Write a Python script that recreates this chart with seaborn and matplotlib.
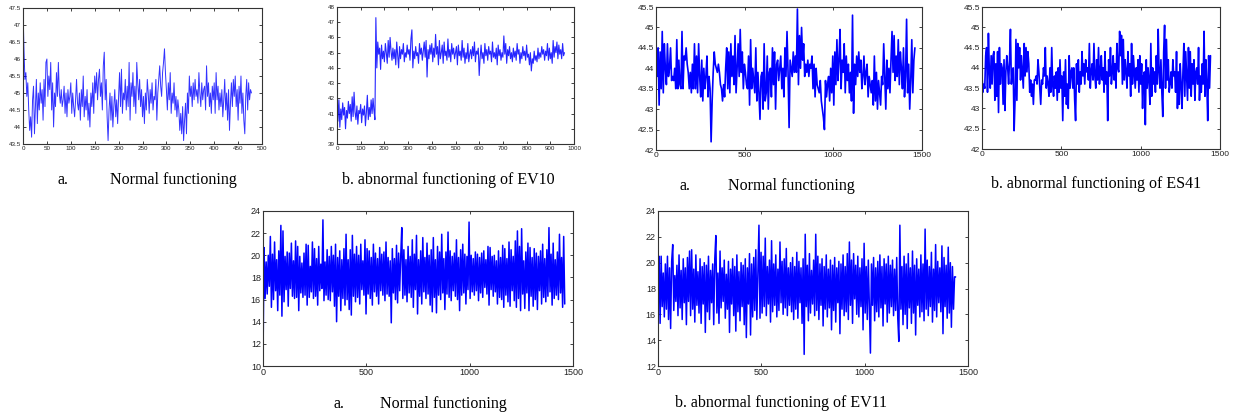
import numpy as np
import pandas as pd
import matplotlib
matplotlib.use("Agg")
import matplotlib.pyplot as plt
import seaborn as sns

# ---------------- data ----------------
ev10_normal = [
    47.5, 46.3, 45.4, 45.6, 44.9, 45.3, 44.5, 43.9, 44.3, 43.7,
    44.8, 45.2, 43.8, 44.6, 45.4, 44.1, 45.0, 44.5, 45.3, 44.7,
    45.1, 44.2, 45.4, 44.6, 45.9, 46.0, 44.9, 45.5, 45.1, 45.9,
    44.5, 45.3, 44.0, 45.0, 44.6, 45.6, 44.9, 45.9, 45.0, 44.7,
    45.1, 44.6, 44.8, 45.2, 44.4, 45.0, 44.3, 45.1, 44.7, 44.9,
    45.3, 44.4, 45.0, 44.6, 44.3, 44.8, 45.4, 44.7, 44.5, 45.0,
    44.2, 45.1, 44.6, 45.5, 44.3, 44.9, 44.5, 45.1, 44.2, 44.7,
    44.0, 45.0, 44.6, 45.3, 44.4, 45.5, 45.0, 45.6, 44.8, 45.4,
    45.7, 44.9, 45.3, 44.5, 45.8, 46.2, 44.8, 45.4, 44.3, 43.6,
    44.5, 45.0, 44.2, 44.9, 44.0, 44.6, 45.1, 44.3, 44.8, 44.1,
    44.9, 45.6, 44.6, 45.7, 44.4, 45.0, 44.8, 45.4, 44.5, 45.2,
    44.6, 45.9, 44.2, 45.3, 44.9, 45.6, 44.6, 45.2, 44.4, 45.9,
    45.3, 44.8, 45.4, 44.6, 45.1, 44.3, 44.9, 44.1, 45.0, 44.5,
    45.4, 45.0, 44.4, 45.1, 44.7, 45.3, 44.5, 44.9, 44.8, 45.4,
    44.2, 45.0, 45.4, 45.8, 45.2, 44.9, 45.6, 45.9, 46.3, 45.6,
    45.1, 44.5, 45.3, 44.8, 45.6, 44.4, 45.0, 44.7, 45.3, 44.5,
    44.9, 44.3, 44.8, 44.5, 43.9, 44.4, 43.8, 44.6, 43.6, 44.2,
    44.7, 43.8, 45.0, 44.4, 45.5, 44.9, 45.2, 44.6, 45.3, 44.8,
    45.4, 44.9, 45.1, 44.7, 45.6, 45.0, 44.6, 45.3, 44.8, 45.1,
    45.2, 44.5, 45.8, 44.9, 45.3, 44.6, 45.0, 44.4, 45.2, 44.8,
    45.3, 44.4, 45.6, 44.8, 45.2, 44.5, 45.0, 44.6, 45.1, 44.3,
    44.8, 45.4, 44.5, 45.0, 44.2, 45.1, 43.9, 44.7, 45.3, 44.6,
    45.4, 44.9, 45.5, 44.6, 45.1, 44.2, 45.2, 44.7, 45.5, 44.4,
    45.0, 44.2, 43.8, 44.9, 45.4, 44.5, 45.3, 44.8, 45.1, 45.0,
]
ev10_normal_end = 478

ev10_abnormal = [
    42.8, 40.5, 41.9, 40.1, 41.3, 40.6, 41.7, 40.9, 41.4, 40.0,
    41.2, 40.7, 41.8, 41.0, 41.6, 40.5, 42.1, 40.8, 42.4, 41.1,
    40.6, 41.5, 40.3, 41.2, 41.0, 41.6, 40.4, 41.3, 40.9, 41.5,
    40.2, 41.1, 42.2, 40.6, 41.4, 40.8, 41.9, 41.0, 42.0, 41.2, 40.6,
    47.3, 44.0, 45.7, 44.9, 45.3, 43.9, 45.5, 44.6, 45.1, 44.4,
    45.6, 45.0, 44.3, 45.8, 44.7, 46.0, 45.1, 44.5, 45.3, 44.6,
    45.2, 44.2, 45.7, 44.8, 44.0, 45.4, 44.6, 45.2, 44.9, 45.6,
    44.4, 45.0, 44.7, 45.5, 44.9, 45.2, 44.5, 45.9, 46.5, 44.0,
    45.1, 44.6, 45.4, 44.8, 45.0, 44.3, 45.6, 44.9, 45.3, 44.5,
    45.1, 45.7, 44.7, 45.8, 43.4, 45.2, 44.6, 45.5, 44.9, 45.6,
    44.4, 45.3, 44.7, 46.2, 44.9, 45.4, 44.2, 45.8, 44.6, 45.0,
    45.5, 44.3, 45.7, 44.8, 45.1, 44.5, 45.9, 44.7, 45.2, 44.4,
    45.6, 44.9, 45.3, 44.6, 45.0, 45.4, 44.2, 45.5, 44.8, 45.1,
    44.5, 45.8, 44.7, 45.3, 44.3, 45.0, 44.6, 45.6, 44.4, 44.9,
    45.2, 44.6, 45.4, 44.8, 45.7, 44.4, 45.1, 44.9, 45.3, 43.5,
    44.7, 45.5, 44.6, 45.0, 44.3, 45.6, 44.8, 45.2, 44.5, 45.4,
    44.9, 45.1, 44.4, 45.7, 44.7, 45.0, 44.6, 45.3, 44.2, 45.5,
    44.8, 45.2, 44.5, 45.0, 44.7, 46.1, 44.9, 45.6, 44.3, 45.2,
    44.8, 45.4, 44.6, 45.0, 44.4, 45.3, 44.7, 45.1, 44.5, 45.6,
    44.9, 45.2, 44.3, 45.0, 44.6, 45.4, 44.8, 45.1, 44.5, 45.5,
    44.7, 44.9, 44.2, 45.0, 43.8, 44.6, 44.3, 45.1, 44.5, 44.8,
    44.4, 45.3, 44.6, 45.0, 44.7, 45.4, 44.9, 45.2, 44.5, 45.1,
    44.8, 45.6, 44.5, 45.3, 44.6, 45.0, 44.3, 45.8, 44.7, 45.4,
    45.0, 45.7, 44.6, 45.5, 44.9, 45.2, 44.6, 45.6, 44.8, 45.0,
]
ev10_abnormal_end = 960

es41_normal = [
    43.9, 43.8, 44.5, 43.1, 44.4, 43.5, 44.9, 43.4, 44.6, 44.0,
    43.6, 44.6, 43.8, 44.0, 44.5, 43.7, 43.8, 43.7, 44.0, 43.5,
    44.7, 43.5, 44.2, 43.6, 43.5, 44.9, 43.5, 44.3, 44.2, 44.5,
    44.1, 43.9, 43.5, 43.9, 43.4, 44.1, 43.5, 44.6, 43.5, 44.3,
    43.4, 44.6, 43.8, 43.3, 44.2, 43.2, 44.0, 43.5, 43.8, 44.3,
    43.3, 43.8, 43.5, 42.2, 43.2, 43.9, 44.4, 44.1, 44.0, 43.9,
    44.1, 43.9, 43.6, 43.5, 43.2, 43.6, 43.3, 44.0, 44.5, 43.5,
    44.4, 43.4, 44.6, 43.8, 44.3, 43.6, 44.8, 43.4, 44.0, 44.6,
    43.8, 44.95, 43.9, 44.4, 43.5, 44.1, 43.9, 43.6, 43.5, 44.3,
    43.1, 44.7, 43.5, 44.0, 43.7, 43.4, 44.5, 43.2, 43.9, 43.4,
    42.75, 43.8, 43.9, 43.0, 44.6, 43.2, 43.4, 44.3, 43.0, 43.9,
    44.0, 43.3, 44.5, 43.6, 44.4, 43.0, 44.1, 44.2, 43.7, 44.0,
    44.3, 43.5, 44.0, 43.3, 44.5, 43.8, 44.9, 43.9, 42.55, 44.2,
    44.0, 43.8, 44.4, 43.9, 44.3, 43.9, 45.45, 43.6, 44.8, 44.0,
    45.0, 44.2, 44.6, 43.8, 44.1, 43.9, 44.2, 43.8, 44.1, 44.0,
    44.3, 43.5, 44.1, 43.3, 44.0, 43.6, 43.5, 43.4, 43.7, 43.2,
    43.0, 42.8, 42.5, 43.7, 43.3, 43.6, 43.8, 43.2, 44.0, 43.4,
    44.3, 43.1, 44.4, 43.6, 44.7, 43.7, 44.2, 44.95, 43.5, 44.2,
    43.9, 44.6, 43.4, 44.3, 43.7, 44.1, 43.4, 43.9, 43.2, 45.3,
    42.9, 44.1, 43.6, 44.3, 43.8, 44.4, 43.9, 44.2, 43.5, 43.8,
    44.3, 43.6, 43.9, 44.1, 43.3, 43.8, 43.6, 43.4, 43.7, 43.1,
    44.3, 43.2, 43.9, 43.0, 43.7, 43.4, 43.1, 43.8, 43.6, 44.6,
    43.8, 43.0, 44.2, 43.5, 44.0, 43.4, 44.2, 44.9, 43.9, 44.8,
    43.7, 44.3, 43.8, 44.7, 43.6, 44.4, 44.0, 43.5, 44.5, 43.3,
    43.8, 45.2, 43.4, 44.1, 43.0, 43.7, 44.7, 43.4, 44.2, 44.5,
]
es41_normal_end = 1460

es41_abnormal = [
    43.8, 43.4, 43.6, 43.5, 44.3, 44.5, 43.4, 44.85, 43.9, 43.5,
    44.3, 43.6, 44.3, 44.4, 43.2, 44.1, 43.3, 44.4, 42.9, 44.5,
    43.6, 44.1, 44.0, 43.1, 44.2, 42.95, 43.9, 44.3, 44.0, 43.6,
    44.2, 44.95, 43.6, 43.9, 44.0, 42.45, 43.2, 44.7, 43.2, 44.6,
    44.0, 44.5, 43.7, 44.3, 43.9, 43.5, 44.6, 43.8, 44.5, 43.9,
    44.4, 44.1, 43.4, 43.7, 43.3, 43.6, 43.1, 43.7, 43.7, 43.8,
    43.6, 44.2, 43.9, 43.5, 43.1, 43.7, 43.6, 44.0, 43.8, 44.5,
    43.5, 43.8, 43.6, 43.3, 44.0, 43.4, 44.5, 43.6, 43.3, 43.8,
    43.5, 43.9, 43.2, 44.0, 43.4, 44.2, 43.5, 43.8, 42.7, 43.9,
    43.3, 44.2, 43.1, 43.6, 43.0, 44.3, 43.5, 43.9, 44.0, 43.5,
    44.0, 43.2, 42.7, 44.1, 43.6, 44.2, 43.4, 43.9, 43.6, 44.4,
    43.8, 44.1, 43.6, 44.2, 43.9, 44.0, 43.7, 44.6, 43.5, 43.9,
    44.1, 43.7, 44.6, 43.8, 43.5, 44.2, 43.7, 44.5, 43.6, 43.9,
    44.3, 43.7, 44.0, 43.4, 44.4, 43.6, 43.9, 42.7, 44.2, 43.8,
    44.5, 43.6, 43.9, 44.3, 43.7, 44.1, 43.5, 44.6, 44.0, 43.9,
    44.9, 44.3, 44.8, 43.6, 44.7, 43.7, 44.2, 43.9, 43.5, 44.4,
    43.8, 44.1, 43.3, 44.6, 43.6, 44.3, 43.9, 43.5, 44.0, 43.7,
    44.2, 43.4, 44.3, 43.6, 44.1, 43.0, 43.8, 43.9, 42.6, 44.2,
    43.5, 44.0, 43.7, 43.1, 44.6, 43.3, 44.0, 43.6, 43.9, 43.4,
    44.3, 43.6, 44.95, 43.9, 43.5, 44.2, 43.4, 42.8, 44.4, 45.05,
    43.5, 44.7, 43.7, 44.2, 43.4, 43.6, 43.9, 43.5, 44.2, 43.8,
    43.9, 43.4, 44.4, 43.0, 43.9, 43.1, 44.1, 43.6, 43.0, 43.9,
    44.6, 43.3, 44.4, 43.8, 43.2, 44.5, 43.5, 44.4, 43.3, 44.1,
    43.6, 44.2, 43.2, 43.9, 44.0, 43.6, 44.5, 43.2, 43.8, 43.4,
    44.1, 43.6, 44.9, 43.3, 44.2, 43.6, 42.7, 44.3, 43.5, 44.3,
]
es41_abnormal_end = 1440

ev11_normal = [
    10.5, 20.7, 16.1, 19.4, 16.5, 20.0, 17.2, 21.7, 15.3, 20.1,
    16.0, 21.2, 16.8, 19.6, 15.0, 20.4, 16.4, 22.7, 14.5, 22.2,
    15.8, 19.9, 16.9, 20.3, 15.4, 20.2, 17.0, 21.1, 16.3, 19.5,
    16.1, 21.3, 16.2, 20.8, 15.0, 19.9, 16.6, 19.3, 16.2, 20.2,
    16.4, 21.0, 15.5, 20.9, 16.2, 19.0, 16.7, 21.2, 16.1, 20.6,
    16.3, 19.7, 15.5, 20.8, 16.8, 19.2, 17.0, 23.2, 15.9, 19.4,
    16.4, 20.5, 16.0, 19.9, 15.9, 20.8, 16.7, 20.0, 15.4, 21.0,
    14.0, 19.8, 16.3, 20.4, 15.0, 19.6, 16.1, 20.6, 15.5, 21.9,
    16.0, 19.6, 15.1, 20.5, 14.6, 21.8, 16.3, 20.1, 15.8, 20.8,
    16.2, 20.0, 15.6, 21.0, 16.9, 19.5, 16.4, 21.4, 14.7, 20.6,
    16.5, 20.4, 16.1, 19.8, 15.5, 21.0, 16.7, 20.2, 16.3, 19.7,
    15.6, 20.7, 16.8, 20.1, 16.4, 20.3, 15.9, 21.2, 16.5, 19.8,
    16.3, 19.5, 13.9, 20.6, 16.6, 19.7, 16.0, 20.9, 15.7, 20.2,
    16.8, 19.9, 22.5, 16.1, 20.5, 16.4, 19.6, 15.8, 20.8, 16.6,
    19.9, 16.2, 21.4, 15.3, 20.1, 16.9, 21.8, 14.7, 19.6, 16.3,
    20.4, 15.6, 21.6, 16.7, 19.8, 16.1, 21.1, 16.5, 20.0, 15.5,
    20.5, 14.9, 21.6, 16.2, 19.6, 14.8, 20.8, 16.4, 20.3, 16.0,
    21.9, 16.6, 19.7, 15.1, 20.3, 16.5, 22.1, 16.2, 20.4, 15.9,
    19.9, 16.8, 20.2, 16.3, 21.4, 16.0, 19.8, 15.0, 20.5, 16.4,
    21.0, 16.6, 20.1, 15.6, 19.9, 16.9, 23.0, 16.1, 20.0, 16.7,
    19.7, 16.4, 20.3, 16.8, 20.1, 15.9, 19.8, 16.6, 20.2, 16.2,
    20.4, 17.1, 19.6, 16.5, 20.8, 15.5, 20.7, 16.9, 19.9, 16.3,
    20.0, 16.7, 19.5, 15.6, 20.4, 16.2, 19.8, 16.0, 20.9, 15.3,
    20.6, 16.4, 19.7, 15.8, 21.2, 15.4, 20.5, 16.8, 19.9, 15.9,
    21.3, 15.3, 22.2, 16.1, 20.8, 15.0, 22.4, 16.5, 19.5, 15.2,
    20.3, 16.6, 21.1, 15.0, 20.7, 16.3, 19.8, 15.4, 20.6, 16.0,
    20.2, 15.1, 19.9, 16.8, 20.4, 15.6, 21.0, 16.2, 19.7, 15.8,
    20.5, 16.3, 22.5, 16.7, 20.1, 15.5, 21.1, 16.1, 19.6, 16.4,
    20.3, 16.0, 21.9, 16.6, 19.8, 15.3, 21.7, 15.6,
]
ev11_normal_end = 1460

ev11_abnormal = [
    18.6, 20.5, 15.3, 20.5, 16.6, 19.2, 15.8, 19.9, 16.4, 20.5,
    15.6, 19.6, 14.9, 20.1, 21.4, 16.3, 19.0, 17.0, 19.8, 15.9,
    20.6, 16.5, 19.4, 15.6, 20.3, 16.9, 19.6, 15.2, 20.4, 17.0,
    20.9, 15.9, 21.0, 16.4, 19.5, 15.4, 20.6, 16.7, 19.3, 16.1,
    20.3, 15.3, 19.7, 16.8, 20.0, 14.6, 19.8, 16.2, 20.5, 15.6,
    19.4, 16.9, 19.9, 15.2, 20.3, 22.1, 16.1, 19.2, 15.3, 20.9,
    16.5, 19.6, 17.0, 20.2, 15.7, 19.1, 16.4, 20.1, 14.6, 19.5,
    16.8, 20.3, 15.9, 19.7, 14.7, 20.6, 16.2, 19.3, 15.5, 20.0,
    16.6, 19.8, 15.2, 20.3, 14.2, 19.6, 16.8, 20.7, 14.4, 19.9,
    15.8, 20.4, 16.3, 21.0, 15.6, 19.4, 22.9, 15.7, 20.8, 16.1,
    20.5, 16.6, 21.9, 15.9, 19.7, 16.8, 20.2, 15.4, 21.7, 16.2,
    19.9, 16.7, 20.6, 15.8, 19.5, 16.3, 21.6, 16.9, 20.1, 16.0,
    20.3, 16.5, 21.1, 15.9, 19.6, 16.7, 20.0, 16.2, 20.4, 15.6,
    19.7, 16.4, 20.8, 15.7, 20.1, 16.9, 19.6, 15.3, 20.3, 12.9,
    22.2, 16.6, 19.8, 15.5, 20.7, 16.1, 19.4, 16.8, 20.2, 15.9,
    22.2, 16.3, 20.5, 15.6, 19.9, 16.7, 20.3, 15.1, 19.7, 16.4,
    20.6, 15.8, 19.5, 16.5, 20.2, 14.8, 19.8, 16.3, 20.4, 15.4,
    19.6, 16.9, 20.1, 14.5, 19.9, 16.4, 20.6, 15.9, 19.7, 16.2,
    20.7, 15.6, 21.6, 16.7, 20.2, 15.3, 20.7, 17.2, 19.8, 16.0,
    20.5, 15.8, 19.6, 16.6, 20.3, 14.8, 21.5, 16.1, 19.7, 15.6,
    20.2, 16.4, 13.0, 19.9, 16.7, 20.4, 15.5, 19.6, 16.2, 20.1,
    15.8, 20.6, 16.5, 19.7, 15.1, 20.3, 16.8, 19.9, 15.4, 20.5,
    16.1, 19.8, 16.6, 20.2, 15.9, 19.5, 16.3, 20.4, 15.7, 13.9,
    22.9, 16.4, 19.7, 15.2, 20.5, 16.0, 19.9, 14.9, 20.7, 16.5,
    19.6, 15.3, 20.9, 16.1, 19.8, 14.4, 20.3, 16.7, 19.5, 15.8,
    20.6, 16.2, 19.9, 15.5, 22.6, 16.4, 20.2, 15.9, 19.7, 16.6,
    20.8, 15.4, 19.5, 16.3, 21.4, 15.8, 20.1, 16.9, 19.6, 16.2,
    21.3, 14.5, 20.4, 16.6, 19.8, 15.7, 21.2, 16.1, 20.0, 15.0,
    19.7, 16.4, 18.9, 18.9,
]
ev11_abnormal_end = 1440

captions = [
    ("a.", "Normal functioning"),
    ("b. abnormal functioning of EV10", None),
    ("a.", "Normal functioning"),
    ("b. abnormal functioning of ES41", None),
    ("a.", "Normal functioning"),
    ("b. abnormal functioning of EV11", None),
]

# ---------------- figure ----------------
sns.set_theme(style="white")
plt.rcParams["font.family"] = ["Liberation Sans", "DejaVu Sans"]

W, H = 1234, 416
fig = plt.figure(figsize=(W / 100, H / 100), dpi=100)


def axes_px(l, t, r, b):
    return fig.add_axes([l / W, 1 - b / H, (r - l) / W, (b - t) / H])


panels = [
    dict(box=(23, 8, 262, 144), y=ev10_normal, end=ev10_normal_end,
         xlim=(0, 500), xt=np.arange(0, 501, 50), ylim=(43.5, 47.5),
         yt=np.arange(43.5, 47.51, 0.5), fs=4.5, lw=0.7, alpha=0.8),
    dict(box=(337, 7, 574, 144), y=ev10_abnormal, end=ev10_abnormal_end,
         xlim=(0, 1000), xt=np.arange(0, 1001, 100), ylim=(39, 48),
         yt=np.arange(39, 48.1, 1), fs=4.5, lw=0.8, alpha=0.85),
    dict(box=(656, 7, 922, 150), y=es41_normal, end=es41_normal_end,
         xlim=(0, 1500), xt=[0, 500, 1000, 1500], ylim=(42, 45.5),
         yt=np.arange(42, 45.51, 0.5), fs=6, lw=1.2, alpha=1.0),
    dict(box=(982, 7, 1220, 149), y=es41_abnormal, end=es41_abnormal_end,
         xlim=(0, 1500), xt=[0, 500, 1000, 1500], ylim=(42, 45.5),
         yt=np.arange(42, 45.51, 0.5), fs=6, lw=1.2, alpha=1.0),
    dict(box=(263, 211, 573, 366), y=ev11_normal, end=ev11_normal_end,
         xlim=(0, 1500), xt=[0, 500, 1000, 1500], ylim=(10, 24),
         yt=np.arange(10, 24.1, 2), fs=6.5, lw=1.1, alpha=1.0),
    dict(box=(658, 211, 968, 366), y=ev11_abnormal, end=ev11_abnormal_end,
         xlim=(0, 1500), xt=[0, 500, 1000, 1500], ylim=(12, 24),
         yt=np.arange(12, 24.1, 2), fs=6.5, lw=1.1, alpha=1.0),
]

for p in panels:
    ax = axes_px(*p["box"])
    vals = np.asarray(p["y"], dtype=float)
    xs = np.linspace(0, p["end"], len(vals))
    df = pd.DataFrame({"t": xs, "v": vals})
    sns.lineplot(data=df, x="t", y="v", ax=ax, color="#0000ff",
                 linewidth=p["lw"], alpha=p["alpha"], estimator=None, sort=False)
    ax.set_xlim(*p["xlim"])
    ax.set_ylim(*p["ylim"])
    ax.set_xticks(p["xt"])
    ax.set_yticks(p["yt"])
    ax.set_xticklabels([f"{int(v)}" for v in p["xt"]])
    ax.set_yticklabels([f"{v:g}" for v in p["yt"]])
    ax.set_xlabel("")
    ax.set_ylabel("")
    ax.tick_params(direction="in", length=2.5, width=0.6, top=True, right=True,
                   labelsize=p["fs"], pad=1.5, colors="#222222",
                   bottom=True, left=True)
    for s in ax.spines.values():
        s.set_color("#333333")
        s.set_linewidth(0.8)
    ax.grid(False)
    ax.set_facecolor("white")

serif = ["Liberation Serif", "DejaVu Serif"]
cap_fs = 11.5


def cap(x, y, s, ha="left"):
    fig.text(x / W, 1 - y / H, s, ha=ha, va="center", fontsize=cap_fs,
             family=serif, color="black")


cap(58, 180, captions[0][0])
cap(110, 180, captions[0][1])
cap(448, 180, captions[1][0], ha="center")
cap(680, 186, captions[2][0])
cap(728, 186, captions[2][1])
cap(1096, 184, captions[3][0], ha="center")
cap(333, 404, captions[4][0])
cap(380, 404, captions[4][1])
cap(781, 403, captions[5][0], ha="center")

fig.savefig("out.png", dpi=100, facecolor="white")
